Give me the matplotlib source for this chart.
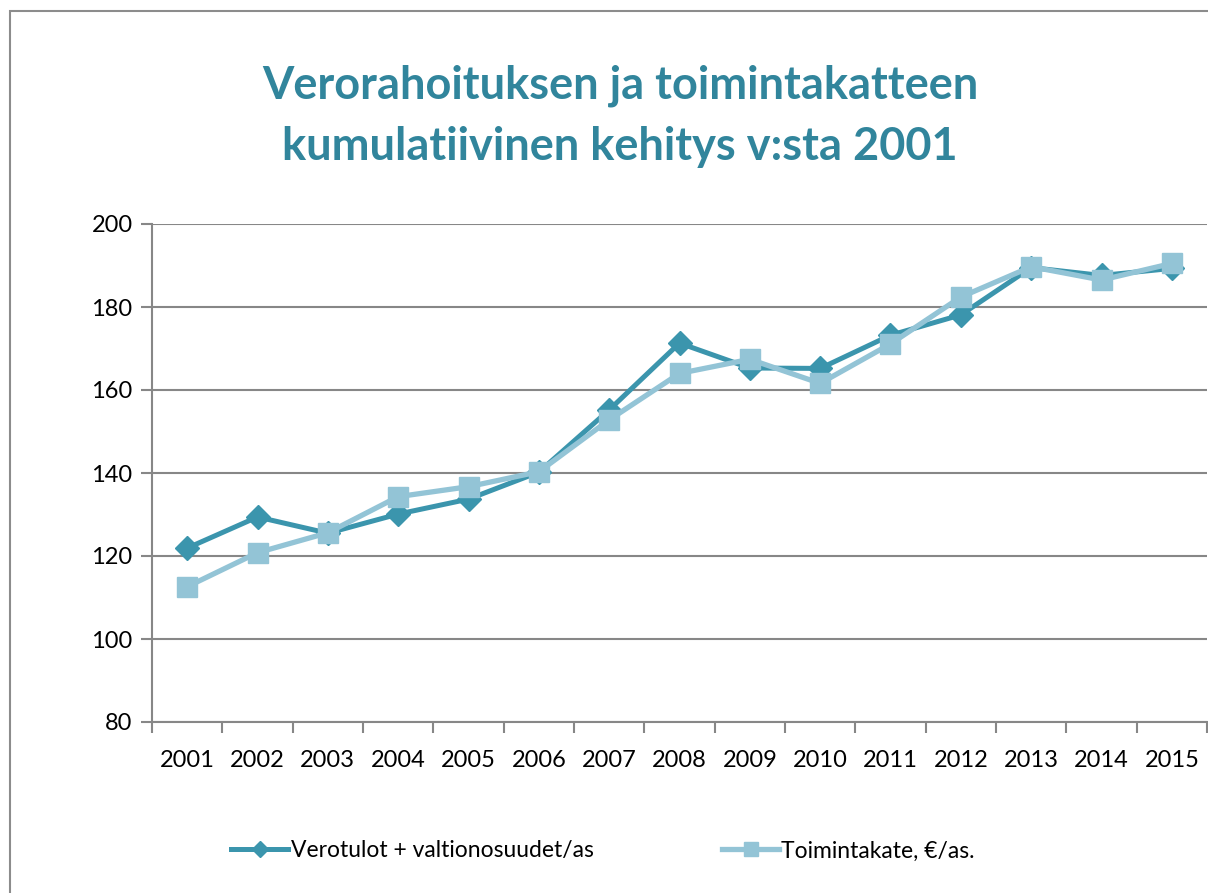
import matplotlib
matplotlib.use('Agg')
import matplotlib.pyplot as plt
from matplotlib.patches import Rectangle

plt.rcParams['font.family'] = ['Lato', 'DejaVu Sans']

years = ['2001', '2002', '2003', '2004', '2005', '2006', '2007', '2008',
         '2009', '2010', '2011', '2012', '2013', '2014', '2015']
verotulot = [121.9, 129.4, 125.5, 130.1, 133.7, 140.2, 155.2, 171.3,
             165.3, 165.2, 173.2, 178.1, 189.5, 187.6, 189.3]
toimintakate = [112.6, 120.8, 125.6, 134.3, 136.7, 140.3, 152.8, 164.0,
                167.4, 161.6, 171.1, 182.4, 189.7, 186.5, 190.5]
yticks = [80, 100, 120, 140, 160, 180, 200]

DARK = '#3B95AD'
LIGHT = '#93C4D6'
GRID = '#878787'
TITLE = '#31859C'

fig = plt.figure(figsize=(12.08, 8.93), dpi=100)

# chart frame (cut at right/bottom like the screenshot)
fig.patches.append(Rectangle((10 / 1208, -0.1), 1.2, 1 - 11 / 893 + 0.1,
                             transform=fig.transFigure, fill=False,
                             edgecolor='#8c8c8c', linewidth=1.5))

ax = fig.add_axes([152 / 1208, 1 - 722 / 893, 1055 / 1208, 498 / 893])
x = list(range(len(years)))

ax.plot(x, verotulot, color=DARK, linewidth=3.6, marker='D', markersize=12,
        label='Verotulot + valtionosuudet/as', zorder=3)
ax.plot(x, toimintakate, color=LIGHT, linewidth=3.8, marker='s', markersize=14,
        label='Toimintakate, €/as.', zorder=4)

ax.set_xlim(-0.5, len(years) - 0.5)
ax.set_ylim(80, 200)
ax.set_yticks(yticks)
ax.set_xticks(x)
ax.set_xticklabels(years)
ax.set_xticks([i - 0.5 for i in range(len(years) + 1)], minor=True)
ax.tick_params(axis='x', which='major', length=0, pad=20, labelsize=17)
ax.tick_params(axis='x', which='minor', length=8, width=1.5, color=GRID)
ax.tick_params(axis='y', length=8, width=1.5, color=GRID, pad=6, labelsize=17)

ax.yaxis.grid(True, color=GRID, linewidth=1.5)
ax.set_axisbelow(True)
for s in ['top', 'right']:
    ax.spines[s].set_visible(False)
for s in ['left', 'bottom']:
    ax.spines[s].set_color(GRID)
    ax.spines[s].set_linewidth(1.5)

fig.text(620 / 1208, 1 - 116 / 893,
         'Verorahoituksen ja toimintakatteen\nkumulatiivinen kehitys v:sta 2001',
         ha='center', va='center', fontsize=32.5, fontweight='bold', color=TITLE,
         linespacing=1.55)

fig.legend(loc='center', bbox_to_anchor=(603 / 1208, 1 - 851 / 893), ncol=2,
           frameon=False, fontsize=16.5, columnspacing=5.6, handlelength=2.5,
           handletextpad=0.1, markerscale=0.7)

fig.savefig('out.png', dpi=100)
